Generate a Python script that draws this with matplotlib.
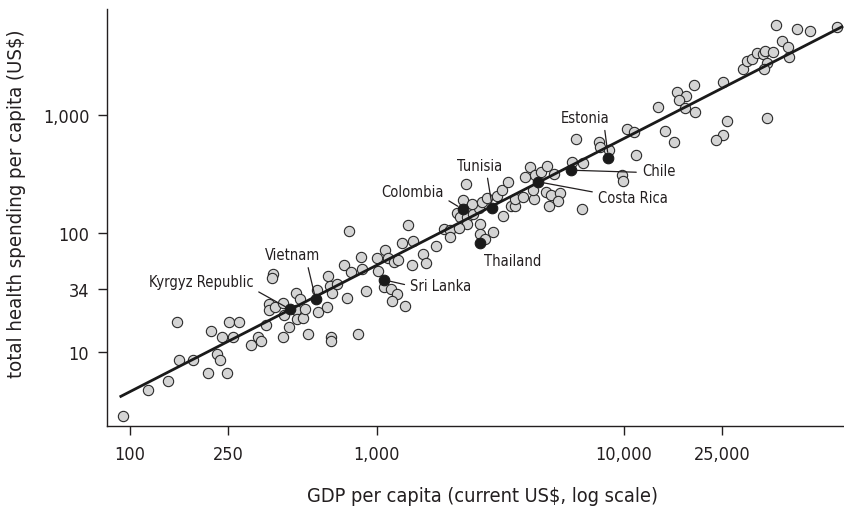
import matplotlib
matplotlib.use("Agg")
import matplotlib.pyplot as plt
from matplotlib.ticker import FixedLocator, FixedFormatter, NullLocator

plt.rcParams['font.family'] = ['DejaVu Sans']
plt.rcParams['font.stretch'] = 'condensed'

# GDP per capita (US$) and total health spending per capita (US$), all countries
gdp = [94, 119, 143, 156, 159, 181, 207, 213, 226, 233, 236, 248, 253, 278, 261,
       311, 331, 339, 356, 381, 377, 366, 366, 388, 419, 421, 419, 442, 469, 489,
       469, 474, 501, 510, 528, 573, 580, 627, 635, 647, 659, 689, 650, 650, 758,
       737, 789, 773, 864, 874, 905, 838, 1000, 1015, 1085, 1106, 1175, 1223, 1262,
       1335, 1406, 1386, 1074, 1146, 1205, 1153, 1302, 1539, 1578, 1738,
       1873, 1981, 1971, 2104, 2173, 2310, 2443, 2584, 2310, 2160, 2299, 2242, 2425,
       2661, 2797, 2618, 2618, 2748, 2965, 3231, 3069, 3216, 3411, 3482, 3614, 3631,
       3922, 4346, 4156, 4375, 4626, 4892, 5212, 3972, 4275, 4860, 5078, 5495, 5435,
       4961, 6776, 6159, 6861, 6383, 7943, 7980, 8744, 9817, 9910, 11220, 10310,
       10960, 13700, 14690, 16030,
       16440, 17880, 16750, 17710, 19310, 19350, 25290, 26300, 25170, 23640, 37930,
       30270, 31560, 32970, 34550, 36640, 37170, 40230, 37860, 36880, 43620, 46240,
       46550, 41500, 50170, 56620, 73250]
health = [2.84, 4.75, 5.71, 18.0, 8.5, 8.5, 6.6, 15.0, 9.6, 8.5, 13.2, 6.6, 18.0, 18.0, 13.2,
          11.4, 13.3, 12.3, 16.8, 45.7, 41.6, 25.3, 22.7, 23.7, 26.0, 20.4, 13.4, 16.1, 31.3, 28.1,
          22.3, 18.9, 19.1, 22.9, 14.1, 33.2, 21.8, 23.7, 43.5, 36.1, 31.3, 37.6, 13.3, 12.3, 28.4,
          54.4, 46.8, 105, 62.6, 50.4, 32.5, 14.1, 62.4, 48.3, 72.6, 61.8, 56.8, 59.4, 82.7,
          117, 85.5, 54.4, 35.0, 33.8, 31.0, 26.8, 24.4, 66.8, 55.7, 78.4,
          108, 107, 93.8, 147, 136, 137, 145, 162, 120, 110, 260, 191, 176,
          183, 200, 119, 98.1, 90.2, 102, 139, 207, 234, 272, 170, 169, 195,
          203, 193, 362, 310, 327, 373, 316, 296, 233, 223, 209, 218, 187,
          171, 160, 399, 394, 630, 585, 531, 507, 313, 277, 457, 757,
          714, 1173, 736, 585,
          1570, 1446, 1331, 1150, 1771, 1048, 1906, 885, 674, 612, 947,
          2430, 2856, 2951, 3336, 3253, 3467, 3362, 2757, 2455, 4164, 3706,
          3069, 5747, 5287, 5085, 5572]

# highlighted countries
countries = ['Kyrgyz Republic', 'Vietnam', 'Sri Lanka', 'Colombia', 'Tunisia',
             'Thailand', 'Costa Rica', 'Chile', 'Estonia']
c_gdp = [446, 566, 1067, 2225, 2938, 2618, 4508, 6118, 8663]
c_health = [22.8, 27.8, 40.5, 160, 165, 82.7, 272, 341, 435]

# regression line end points
fit_gdp = [91, 77300]
fit_health = [4.15, 5610]

x_ticks = [100, 250, 1000, 10000, 25000]
x_labels = ['100', '250', '1,000', '10,000', '25,000']
y_ticks = [10, 34, 100, 1000]
y_labels = ['10', '34', '100', '1,000']

ink = '#231f20'

fig = plt.figure(figsize=(8.45, 5.1), dpi=100)
ax = fig.add_axes([0.1263, 0.1627, 0.872, 0.8173])

ax.scatter(gdp, health, s=55, facecolor='#d4d4d4', edgecolor='#2a2a2a',
           linewidth=0.8, zorder=2, clip_on=False)
ax.plot(fit_gdp, fit_health, color='#1a1a1a', lw=2.0, zorder=3,
        solid_capstyle='butt', clip_on=False)
ax.scatter(c_gdp, c_health, s=58, facecolor='#1a1a1a', edgecolor='#1a1a1a',
           linewidth=0.8, zorder=4)

ax.set_xscale('log')
ax.set_yscale('log')
ax.set_xlim(80.7, 77600)
ax.set_ylim(2.36, 7800)

ax.xaxis.set_major_locator(FixedLocator(x_ticks))
ax.xaxis.set_major_formatter(FixedFormatter(x_labels))
ax.xaxis.set_minor_locator(NullLocator())
ax.yaxis.set_major_locator(FixedLocator(y_ticks))
ax.yaxis.set_major_formatter(FixedFormatter(y_labels))
ax.yaxis.set_minor_locator(NullLocator())

ax.spines['top'].set_visible(False)
ax.spines['right'].set_visible(False)
for side in ['left', 'bottom']:
    ax.spines[side].set_color(ink)
    ax.spines[side].set_linewidth(1.0)
ax.tick_params(axis='both', direction='out', length=6.5, width=1.0,
               color=ink, labelcolor=ink, labelsize=13)
ax.tick_params(axis='x', pad=7)
ax.tick_params(axis='y', pad=6)

ax.set_xlabel('GDP per capita (current US$, log scale)', fontsize=14.3, color=ink)
ax.set_ylabel('total health spending per capita (US$)', fontsize=14.6, color=ink)
ax.xaxis.set_label_coords(0.51, -0.145)
ax.yaxis.set_label_coords(-0.11, 0.535)

# label offsets (points) and leader-line start on text box
label_style = {
    'Kyrgyz Republic': ((-64, 20), (1.0, 0.0)),
    'Vietnam': ((-16.7, 32), (0.76, 0.0)),
    'Sri Lanka': ((41, -4.3), (0.0, 0.5)),
    'Colombia': ((-36, 12.5), (1.0, 0.1)),
    'Tunisia': ((-9, 30.5), (0.65, 0.0)),
    'Thailand': ((23.4, -12.7), None),
    'Costa Rica': ((68, -11.2), (0.0, 0.8)),
    'Chile': ((63, -0.5), (0.0, 0.4)),
    'Estonia': ((-16.4, 29), (0.88, 0.0)),
}
for name, gx, hy in zip(countries, c_gdp, c_health):
    off, rel = label_style[name]
    arrow = None
    if rel is not None:
        arrow = dict(arrowstyle='-', color=ink, lw=0.9, shrinkA=2, shrinkB=4,
                     relpos=rel)
    ax.annotate(name, xy=(gx, hy), xytext=off, textcoords='offset points',
                ha='center', va='center', fontsize=10.5, color=ink,
                arrowprops=arrow, zorder=5)

fig.savefig('out.png', dpi=100)
